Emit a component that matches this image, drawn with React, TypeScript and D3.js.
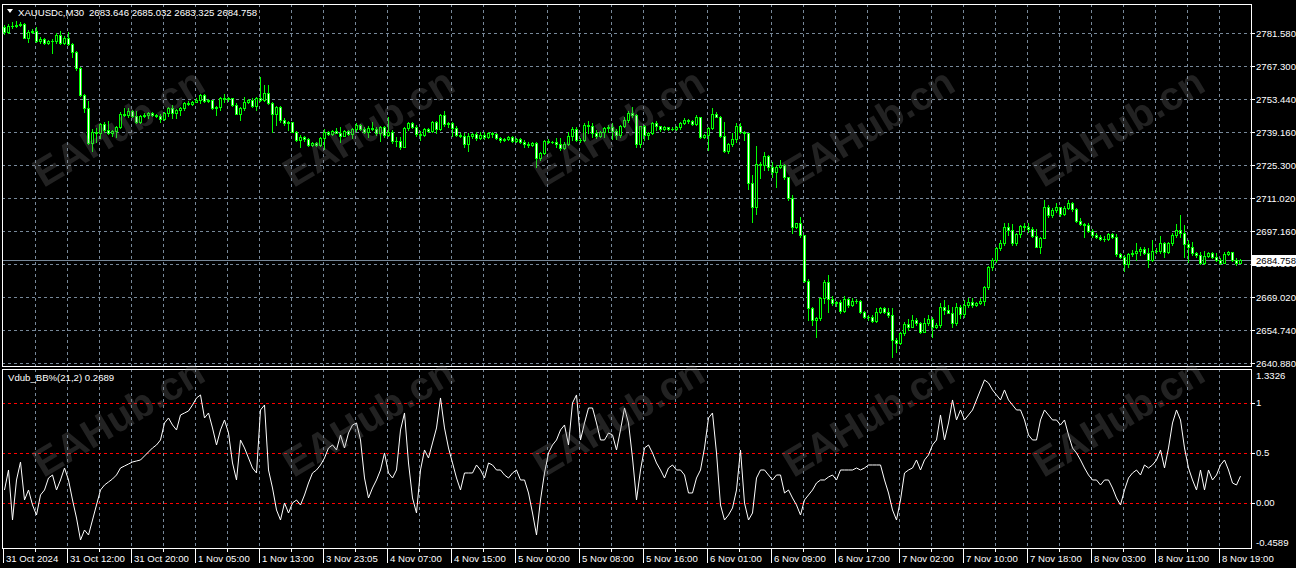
import React from "react";
import * as d3 from "d3";

const symbolLabel = "XAUUSDc,M30";
const headerValues = ["2683.646", "2685.032", "2683.325", "2684.758"];
const indicatorLabel = "Vdub_BB%(21,2) 0.2689";
const lastPrice = 2684.758;
const firstOpen = 2784.1;

const closes = [
  2782.0, 2784.6, 2784.7, 2785.0, 2785.3, 2779.6, 2782.1, 2782.4, 2778.3, 2779.0,
  2777.4, 2778.2, 2778.0, 2780.7, 2777.3, 2779.6, 2776.9, 2773.6, 2766.5, 2755.1,
  2749.7, 2734.6, 2739.5, 2738.9, 2742.8, 2740.2, 2738.9, 2739.8, 2741.6, 2747.0,
  2746.6, 2748.3, 2746.2, 2743.8, 2746.2, 2746.6, 2747.6, 2746.6, 2746.2, 2744.8,
  2747.3, 2749.6, 2747.3, 2748.8, 2749.7, 2751.7, 2751.3, 2752.3, 2753.0, 2755.1,
  2752.6, 2753.0, 2749.7, 2750.2, 2754.0, 2753.4, 2753.9, 2750.9, 2747.0, 2749.7,
  2752.2, 2753.0, 2750.6, 2753.7, 2753.0, 2756.0, 2751.7, 2747.0, 2750.2, 2744.5,
  2743.1, 2743.6, 2739.5, 2736.0, 2737.2, 2736.3, 2733.8, 2734.7, 2733.8, 2736.8,
  2739.5, 2738.5, 2739.8, 2739.1, 2737.8, 2739.8, 2738.4, 2740.5, 2742.4, 2740.5,
  2739.5, 2741.2, 2740.5, 2738.8, 2741.4, 2738.1, 2739.5, 2735.5, 2735.7, 2733.1,
  2741.0, 2743.1, 2741.6, 2738.4, 2738.1, 2740.5, 2739.8, 2743.6, 2740.5, 2746.6,
  2742.7, 2743.1, 2741.2, 2738.1, 2737.7, 2734.1, 2737.7, 2738.4, 2736.7, 2738.1,
  2737.4, 2738.8, 2738.4, 2736.9, 2736.0, 2736.4, 2737.4, 2735.7, 2736.3, 2735.0,
  2734.1, 2733.8, 2734.6, 2728.2, 2730.5, 2735.7, 2735.0, 2735.2, 2734.3, 2732.4,
  2734.3, 2737.7, 2740.5, 2736.0, 2736.1, 2742.4, 2741.9, 2739.1, 2737.7, 2739.5,
  2741.0, 2741.6, 2739.9, 2738.1, 2741.9, 2744.5, 2747.6, 2746.6, 2734.1, 2741.9,
  2738.1, 2739.1, 2743.3, 2741.9, 2740.5, 2741.4, 2740.5, 2740.8, 2741.4, 2743.3,
  2744.5, 2744.1, 2742.7, 2745.6, 2737.1, 2738.1, 2741.0, 2747.0, 2745.9, 2737.7,
  2731.3, 2734.3, 2736.3, 2741.9, 2739.5, 2738.8, 2717.5, 2707.3, 2725.7, 2725.3,
  2729.1, 2724.3, 2722.2, 2724.3, 2725.3, 2720.1, 2711.1, 2699.0, 2700.4, 2695.5,
  2676.0, 2664.2, 2659.2, 2660.1, 2668.5, 2675.5, 2668.0, 2666.3, 2666.8, 2663.2,
  2668.0, 2665.6, 2667.3, 2667.4, 2662.5, 2660.6, 2660.4, 2658.9, 2662.5, 2664.2,
  2662.8, 2661.4, 2650.7, 2649.5, 2653.5, 2657.5, 2656.1, 2659.2, 2657.8, 2654.2,
  2657.8, 2659.5, 2656.1, 2657.1, 2664.6, 2663.5, 2662.3, 2657.8, 2664.6, 2661.8,
  2665.6, 2667.0, 2665.6, 2666.6, 2667.2, 2673.4, 2681.7, 2684.8, 2689.8, 2691.9,
  2698.7, 2697.6, 2691.9, 2695.9, 2699.3, 2698.7, 2697.9, 2695.2, 2690.5, 2694.1,
  2707.3, 2704.0, 2706.1, 2707.3, 2704.4, 2706.8, 2709.0, 2706.4, 2701.6, 2700.0,
  2699.6, 2697.3, 2695.5, 2694.7, 2693.9, 2693.6, 2695.8, 2694.7, 2687.2, 2686.2,
  2683.1, 2687.4, 2687.9, 2688.6, 2689.4, 2687.7, 2684.8, 2688.8, 2688.6, 2691.9,
  2688.3, 2691.9, 2695.5, 2697.6, 2696.4, 2691.5, 2690.2, 2687.7, 2686.9, 2683.4,
  2686.5, 2687.7, 2686.2, 2684.8, 2683.6, 2687.4, 2688.2, 2684.8, 2683.646, 2684.758,
];

const highs = [
  2785.0, 2785.4, 2786.3, 2786.7, 2786.3, 2785.8, 2782.9, 2783.3, 2784.1, 2779.9,
  2779.4, 2778.6, 2779.0, 2781.6, 2782.4, 2780.3, 2782.0, 2777.3, 2773.9, 2767.1,
  2755.6, 2752.6, 2740.7, 2741.1, 2743.1, 2743.8, 2744.1, 2740.2, 2741.9, 2747.8,
  2749.5, 2749.5, 2748.8, 2748.3, 2746.6, 2747.3, 2748.0, 2748.1, 2747.0, 2747.0,
  2747.9, 2750.2, 2750.9, 2749.2, 2750.2, 2752.0, 2752.6, 2752.8, 2753.7, 2755.4,
  2755.4, 2753.4, 2753.2, 2750.6, 2754.4, 2755.4, 2754.3, 2754.0, 2751.6, 2750.2,
  2754.4, 2753.4, 2753.7, 2754.4, 2763.0, 2759.4, 2759.4, 2752.0, 2750.6, 2750.6,
  2745.2, 2744.1, 2743.6, 2739.8, 2738.1, 2737.7, 2736.7, 2735.3, 2735.3, 2737.4,
  2740.5, 2740.0, 2740.2, 2741.2, 2741.4, 2740.2, 2740.2, 2741.2, 2743.1, 2742.8,
  2741.6, 2741.9, 2743.5, 2741.5, 2741.9, 2741.9, 2745.6, 2740.2, 2737.4, 2737.4,
  2741.6, 2743.8, 2743.6, 2742.4, 2739.8, 2740.9, 2740.9, 2744.2, 2744.2, 2747.0,
  2748.5, 2743.8, 2743.5, 2741.9, 2739.1, 2738.8, 2738.8, 2739.1, 2739.5, 2739.2,
  2739.2, 2739.4, 2739.4, 2738.9, 2737.4, 2736.8, 2737.8, 2737.7, 2736.6, 2736.9,
  2736.0, 2735.2, 2734.9, 2735.2, 2731.0, 2736.0, 2736.2, 2735.7, 2736.7, 2736.7,
  2735.2, 2739.5, 2741.4, 2741.6, 2736.6, 2743.1, 2744.2, 2743.1, 2740.2, 2740.0,
  2741.6, 2742.4, 2743.1, 2740.5, 2742.4, 2745.9, 2748.5, 2749.9, 2747.0, 2741.9,
  2742.4, 2739.5, 2743.8, 2744.1, 2741.9, 2741.9, 2741.7, 2741.4, 2741.9, 2743.8,
  2745.2, 2744.8, 2744.4, 2746.6, 2745.9, 2738.5, 2741.4, 2749.5, 2748.0, 2746.2,
  2743.5, 2734.6, 2738.8, 2743.3, 2743.3, 2739.9, 2739.1, 2721.0, 2733.4, 2726.7,
  2731.0, 2729.6, 2726.7, 2725.3, 2727.4, 2725.7, 2720.1, 2712.5, 2700.7, 2703.3,
  2695.5, 2676.6, 2664.9, 2660.6, 2669.1, 2676.3, 2678.4, 2669.5, 2667.3, 2667.7,
  2669.5, 2668.7, 2668.5, 2668.0, 2667.7, 2663.2, 2661.4, 2661.4, 2664.2, 2664.9,
  2664.9, 2664.2, 2664.2, 2651.4, 2654.2, 2658.5, 2659.5, 2661.4, 2659.9, 2658.5,
  2659.9, 2661.4, 2660.6, 2658.1, 2666.3, 2667.7, 2665.6, 2664.9, 2666.3, 2665.6,
  2667.7, 2668.5, 2668.5, 2667.0, 2668.5, 2673.7, 2682.2, 2685.5, 2690.5, 2693.3,
  2700.4, 2700.4, 2700.2, 2696.4, 2699.7, 2700.4, 2700.4, 2699.0, 2697.9, 2694.7,
  2710.4, 2708.2, 2706.8, 2709.0, 2706.8, 2707.8, 2710.4, 2709.7, 2706.8, 2702.6,
  2700.4, 2700.7, 2697.9, 2696.4, 2695.5, 2695.0, 2696.4, 2696.4, 2695.9, 2687.9,
  2686.9, 2687.9, 2689.1, 2692.2, 2690.5, 2690.5, 2689.8, 2693.3, 2689.8, 2695.0,
  2692.6, 2692.6, 2696.4, 2700.2, 2704.0, 2699.7, 2693.3, 2692.6, 2688.3, 2688.3,
  2688.8, 2688.3, 2688.3, 2687.9, 2685.5, 2688.3, 2688.8, 2688.3, 2685.5, 2685.032,
];

const lows = [
  2781.2, 2781.6, 2783.7, 2784.1, 2784.6, 2779.4, 2777.9, 2781.6, 2777.7, 2777.3,
  2776.9, 2776.9, 2772.9, 2777.3, 2776.9, 2776.9, 2776.5, 2771.5, 2765.8, 2754.7,
  2748.0, 2734.3, 2731.3, 2735.2, 2736.9, 2739.5, 2738.5, 2737.8, 2737.4, 2741.0,
  2746.2, 2745.9, 2745.8, 2743.1, 2743.4, 2745.8, 2745.5, 2746.2, 2745.8, 2743.8,
  2744.5, 2746.2, 2745.5, 2745.2, 2746.6, 2748.8, 2750.9, 2750.9, 2752.0, 2751.6,
  2752.3, 2752.0, 2749.1, 2746.6, 2748.8, 2752.3, 2752.8, 2750.6, 2746.9, 2744.5,
  2748.8, 2751.7, 2750.0, 2748.8, 2752.6, 2752.6, 2751.2, 2739.5, 2742.4, 2743.8,
  2742.4, 2740.2, 2739.2, 2735.5, 2733.1, 2735.7, 2733.5, 2733.4, 2733.4, 2733.4,
  2732.0, 2738.1, 2738.1, 2738.8, 2735.2, 2737.5, 2738.1, 2736.9, 2739.9, 2740.2,
  2739.1, 2737.4, 2740.2, 2738.3, 2735.7, 2737.4, 2737.8, 2734.8, 2733.4, 2732.0,
  2732.9, 2740.2, 2741.0, 2737.8, 2736.0, 2737.7, 2739.4, 2739.5, 2739.1, 2740.2,
  2742.1, 2741.6, 2737.8, 2737.8, 2737.4, 2733.1, 2731.4, 2736.7, 2736.0, 2736.3,
  2736.4, 2736.9, 2737.2, 2736.4, 2735.2, 2735.7, 2736.1, 2735.3, 2735.3, 2734.6,
  2733.1, 2732.9, 2733.4, 2724.6, 2727.4, 2729.9, 2734.7, 2734.5, 2733.1, 2731.7,
  2732.0, 2733.8, 2736.0, 2735.7, 2734.9, 2735.7, 2739.1, 2737.4, 2736.9, 2737.2,
  2737.4, 2739.5, 2736.3, 2736.3, 2737.4, 2741.4, 2743.8, 2745.9, 2733.1, 2732.9,
  2736.0, 2736.3, 2738.4, 2740.2, 2739.7, 2740.1, 2740.1, 2740.1, 2740.2, 2740.5,
  2742.7, 2743.3, 2742.4, 2742.4, 2736.7, 2736.7, 2731.7, 2740.5, 2745.6, 2737.4,
  2731.0, 2730.5, 2733.4, 2735.2, 2738.8, 2736.0, 2714.9, 2701.1, 2704.4, 2719.6,
  2723.2, 2723.2, 2720.1, 2716.0, 2723.9, 2719.5, 2710.4, 2696.2, 2698.3, 2694.7,
  2675.5, 2659.2, 2657.1, 2652.1, 2659.2, 2666.3, 2662.8, 2665.6, 2665.2, 2662.1,
  2662.8, 2664.9, 2665.2, 2666.6, 2662.3, 2659.9, 2659.2, 2658.5, 2658.5, 2662.3,
  2662.3, 2660.6, 2643.6, 2645.7, 2649.0, 2652.8, 2655.0, 2656.1, 2657.1, 2653.8,
  2654.2, 2657.1, 2652.1, 2655.7, 2656.4, 2661.8, 2662.1, 2656.4, 2657.1, 2659.9,
  2660.6, 2664.6, 2664.9, 2665.2, 2666.0, 2665.6, 2672.6, 2680.5, 2684.1, 2689.1,
  2691.2, 2695.5, 2691.2, 2691.2, 2694.7, 2697.6, 2696.9, 2694.7, 2690.2, 2687.7,
  2694.1, 2703.3, 2703.3, 2705.4, 2703.6, 2704.1, 2706.4, 2705.8, 2701.1, 2699.7,
  2694.7, 2696.9, 2694.7, 2694.1, 2693.3, 2693.0, 2693.3, 2694.1, 2686.5, 2685.5,
  2680.2, 2681.7, 2686.5, 2684.8, 2686.9, 2687.4, 2681.9, 2684.5, 2687.7, 2687.7,
  2686.2, 2687.9, 2691.2, 2694.7, 2694.7, 2686.2, 2684.1, 2686.9, 2686.2, 2683.1,
  2683.1, 2686.0, 2685.5, 2684.5, 2683.1, 2683.4, 2686.8, 2684.5, 2682.7, 2683.325,
];

const bbValues = [
  0.13, 0.33, -0.17, 0.23, 0.41, 0.03, 0.13, -0.02, -0.12, 0.08,
  0.13, 0.25, 0.28, 0.13, 0.23, 0.35, 0.23, 0.03, -0.15, -0.37,
  -0.27, -0.32, -0.17, -0.02, 0.13, 0.18, 0.21, 0.24, 0.28, 0.35,
  0.37, 0.39, 0.41, 0.42, 0.43, 0.47, 0.51, 0.55, 0.58, 0.63,
  0.8, 0.85, 0.78, 0.73, 0.88, 0.9, 0.92, 0.98, 1.05, 1.08,
  0.85, 0.9, 0.75, 0.58, 0.73, 0.83, 0.7, 0.4, 0.23, 0.63,
  0.55, 0.45, 0.35, 0.3, 0.93, 0.98, 0.33, 0.15, -0.07, -0.17,
  0.0, -0.1, 0.0, 0.03, -0.02, 0.08, 0.2, 0.3, 0.33, 0.38,
  0.45, 0.55, 0.58, 0.53, 0.68, 0.55, 0.7, 0.78, 0.8, 0.63,
  0.25, 0.05, 0.15, 0.23, 0.33, 0.5, 0.3, 0.25, 0.33, 0.73,
  0.9, 0.4, 0.05, -0.1, 0.33, 0.53, 0.45, 0.6, 0.75, 1.05,
  0.75, 0.55, 0.4, 0.25, 0.13, 0.3, 0.3, 0.3, 0.38, 0.33,
  0.25, 0.4, 0.38, 0.33, 0.33, 0.28, 0.25, 0.3, 0.33, 0.23,
  0.23, 0.1, -0.1, -0.32, 0.03, 0.3, 0.5, 0.58, 0.63, 0.73,
  0.78, 0.58, 1.0, 1.08, 0.63, 0.8, 0.95, 0.95, 0.8, 0.63,
  0.63, 0.7, 0.68, 0.53, 0.73, 0.95, 0.8, 0.45, 0.03, 0.33,
  0.55, 0.58, 0.5, 0.4, 0.33, 0.25, 0.35, 0.38, 0.33, 0.33,
  0.28, 0.1, 0.1, 0.25, 0.33, 0.55, 0.85, 0.9, 0.5, -0.02,
  -0.17, -0.12, -0.05, 0.13, 0.53, 0.0, -0.17, -0.1, 0.25, 0.33,
  0.33, 0.28, 0.23, 0.28, 0.28, 0.1, 0.13, 0.05, -0.02, -0.12,
  0.03, 0.08, 0.13, 0.2, 0.23, 0.23, 0.26, 0.28, 0.23, 0.33,
  0.33, 0.33, 0.33, 0.35, 0.33, 0.35, 0.38, 0.38, 0.38, 0.38,
  0.23, 0.1, -0.07, -0.17, 0.03, 0.3, 0.33, 0.35, 0.43, 0.33,
  0.43, 0.48, 0.58, 0.63, 0.88, 0.63, 0.8, 1.03, 0.83, 0.93,
  0.83, 0.88, 0.93, 1.03, 1.13, 1.23, 1.2, 1.13, 1.08, 1.03,
  1.13, 1.03, 0.98, 0.93, 0.93, 0.83, 0.68, 0.63, 0.63, 0.83,
  0.93, 0.88, 0.83, 0.83, 0.78, 0.83, 0.68, 0.55, 0.5, 0.43,
  0.35, 0.28, 0.23, 0.23, 0.18, 0.23, 0.23, 0.15, 0.05, -0.02,
  0.13, 0.25, 0.3, 0.33, 0.28, 0.38, 0.35, 0.38, 0.43, 0.53,
  0.35, 0.55, 0.8, 0.93, 0.83, 0.55, 0.35, 0.23, 0.13, 0.33,
  0.13, 0.33, 0.23, 0.28, 0.38, 0.43, 0.33, 0.2, 0.18, 0.2689,
];

const priceTicks = [2781.58, 2767.3, 2753.44, 2739.16, 2725.3, 2711.02, 2697.16, 2683.3, 2669.02, 2654.74, 2640.88];
const bbTicks = [1.3326, 1, 0.5, 0, -0.4589];
const bbTickLabels = ["1.3326", "1", "0.5", "0.00", "-0.4589"];
const bbLevels = [1, 0.5, 0];
const timeLabels = [
  "31 Oct 2024", "31 Oct 12:00", "31 Oct 20:00", "1 Nov 05:00", "1 Nov 13:00",
  "3 Nov 23:05", "4 Nov 07:00", "4 Nov 15:00", "5 Nov 00:00", "5 Nov 08:00",
  "5 Nov 16:00", "6 Nov 01:00", "6 Nov 09:00", "6 Nov 17:00", "7 Nov 02:00",
  "7 Nov 10:00", "7 Nov 18:00", "8 Nov 03:00", "8 Nov 11:00", "8 Nov 19:00",
];
const timeLabelBars = [0, 16, 32, 48, 64, 80, 96, 112, 128, 144, 160, 176, 192, 208, 224, 240, 256, 272, 288, 304];
const watermarkText = "EAHub.cn";

const W = 1296;
const H = 573;
const FONT = "'Liberation Sans', Arial, sans-serif";
const GREEN = "#00ff00";
const GRID = "#778899";
const FS = 9.6;

export default function App() {
  const N = closes.length;
  const opens = closes.map((c, i) => (i === 0 ? firstOpen : closes[i - 1]));

  const plotL = 2, plotR = 1251;
  const mainT = 4, mainB = 366;
  const indT = 369, indB = 548;

  const x = d3.scaleLinear().domain([0, N - 1]).range([4, 4 + 4 * (N - 1)]);
  const yP = d3.scaleLinear().domain([2640.88, 2781.58]).range([363, 33]);
  const yB = d3.scaleLinear().domain([-0.4589, 1.3326]).range([548.9, 369.7]);

  const gridBars = d3.range(8, N, 8);
  const minorTickBars = d3.range(0, N, 8);

  const line = d3
    .line<number>()
    .x((_, i) => Math.round(x(i)) + 0.5)
    .y((d) => yB(d));

  const candles = closes.map((c, i) => {
    const o = opens[i];
    const h = Math.max(highs[i], o, c);
    const l = Math.min(lows[i], o, c);
    const cx = Math.round(x(i));
    const top = Math.round(yP(Math.max(o, c)));
    const bot = Math.round(yP(Math.min(o, c)));
    const hy = Math.round(yP(h));
    const ly = Math.round(yP(l));
    const bull = c >= o;
    return (
      <g key={i}>
        <rect x={cx} y={hy} width={1} height={ly - hy + 1} fill={GREEN} />
        <rect x={cx - 1} y={top} width={3} height={Math.max(1, bot - top + 1)} fill={GREEN} />
        {bot - top >= 2 && (
          <rect x={cx} y={top + 1} width={1} height={bot - top - 1} fill={bull ? "#000" : "#fff"} />
        )}
      </g>
    );
  });

  const lastY = yP(lastPrice);
  const boxTop = Math.round(lastY) - 5;

  const wmRows = [130, 420];
  const wmCols = [120, 370, 620, 870, 1120];

  return (
    <div>
      <style>{"body{margin:0;background:#fff}"}</style>
      <svg width={W} height={H} style={{ display: "block", fontFamily: FONT }}>
        <rect x={0} y={0} width={W} height={568} fill="#000" />
        <defs>
          <clipPath id="mainClip">
            <rect x={plotL + 1} y={mainT + 1} width={plotR - plotL - 1} height={mainB - mainT - 1} />
          </clipPath>
          <clipPath id="indClip">
            <rect x={plotL + 1} y={indT + 1} width={plotR - plotL - 1} height={indB - indT - 1} />
          </clipPath>
          <clipPath id="hiddenTickClip">
            <rect x={1252} y={boxTop + 11} width={44} height={10} />
          </clipPath>
        </defs>

        {/* main grid */}
        <g shapeRendering="crispEdges">
          {priceTicks.map((p, k) => (
            <line key={"hg" + k} x1={plotL} x2={plotR} y1={Math.round(yP(p)) + 0.5} y2={Math.round(yP(p)) + 0.5}
              stroke={GRID} strokeDasharray="3,3" />
          ))}
          {gridBars.map((b) => (
            <line key={"vg" + b} x1={Math.round(x(b)) - 0.5} x2={Math.round(x(b)) - 0.5} y1={mainT} y2={mainB}
              stroke={GRID} strokeDasharray="3,3" />
          ))}
          {gridBars.map((b) => (
            <line key={"vgi" + b} x1={Math.round(x(b)) - 0.5} x2={Math.round(x(b)) - 0.5} y1={indT} y2={indB}
              stroke={GRID} strokeDasharray="3,3" />
          ))}
          {bbLevels.map((v) => (
            <line key={"lv" + v} x1={plotL} x2={plotR} y1={Math.round(yB(v)) + 0.5} y2={Math.round(yB(v)) + 0.5}
              stroke="#ff0000" strokeDasharray="3,3" />
          ))}
        </g>

        {/* price line */}
        <line x1={plotL} x2={plotR} y1={Math.round(lastY) + 0.5} y2={Math.round(lastY) + 0.5} stroke={GRID}
          shapeRendering="crispEdges" />

        {/* candles */}
        <g clipPath="url(#mainClip)" shapeRendering="crispEdges">{candles}</g>

        {/* indicator line */}
        <g clipPath="url(#indClip)">
          <path d={line(bbValues) || ""} fill="none" stroke="#fff" strokeWidth={1} />
        </g>

        {/* frames */}
        <g fill="none" stroke="#fff" shapeRendering="crispEdges">
          <rect x={plotL + 0.5} y={mainT + 0.5} width={plotR - plotL} height={mainB - mainT} />
          <rect x={plotL + 0.5} y={indT + 0.5} width={plotR - plotL} height={indB - indT} />
        </g>

        {/* price axis */}
        <g fontSize={FS} fill="#fff">
          {priceTicks.map((p, k) => {
            const yy = yP(p);
            const hidden = Math.abs(yy - lastY) < 8;
            return (
              <g key={"pt" + k}>
                <line x1={plotR + 1} x2={plotR + 4} y1={Math.round(yy) + 0.5} y2={Math.round(yy) + 0.5}
                  stroke="#fff" shapeRendering="crispEdges" />
                <text x={1256} y={yy + 3.5} clipPath={hidden ? "url(#hiddenTickClip)" : undefined}>{p.toFixed(3)}</text>
              </g>
            );
          })}
        </g>
        <rect x={1252} y={boxTop} width={44} height={11} fill="#fff" />
        <text x={1256} y={lastY + 3.5} fontSize={FS} fill="#000">{lastPrice.toFixed(3)}</text>

        {/* indicator axis */}
        <g fontSize={FS} fill="#fff">
          {bbTicks.map((v, k) => {
            const yy = k === 0 ? yB(v) + 6 : k === bbTicks.length - 1 ? yB(v) - 6 : yB(v);
            return (
              <g key={"bt" + k}>
                {k > 0 && k < bbTicks.length - 1 && (
                  <line x1={plotR + 1} x2={plotR + 4} y1={Math.round(yB(v)) + 0.5} y2={Math.round(yB(v)) + 0.5}
                    stroke="#fff" shapeRendering="crispEdges" />
                )}
                <text x={1256} y={yy + 3.5}>{bbTickLabels[k]}</text>
              </g>
            );
          })}
        </g>

        {/* time axis */}
        <g shapeRendering="crispEdges" stroke="#fff">
          {minorTickBars.map((b) => (
            <line key={"mt" + b} x1={Math.round(x(b)) - 0.5} x2={Math.round(x(b)) - 0.5} y1={indB + 1} y2={indB + 4} />
          ))}
          {timeLabelBars.map((b) => (
            <line key={"Mt" + b} x1={Math.round(x(b)) - 0.5} x2={Math.round(x(b)) - 0.5} y1={indB + 1} y2={indB + 15} />
          ))}
        </g>
        <g fontSize={FS} fill="#fff">
          {timeLabels.map((t, k) => (
            <text key={"tl" + k} x={Math.round(x(timeLabelBars[k])) + 2} y={562}>{t}</text>
          ))}
        </g>

        {/* header */}
        <polygon points="7,9 13,9 10,13" fill="#fff" />
        <text x={18} y={16} fontSize={FS} fill="#fff">{symbolLabel}</text>
        <text x={89} y={16} fontSize={FS} fill="#fff">{headerValues.join(" ")}</text>
        <text x={8} y={381} fontSize={FS} fill="#fff">{indicatorLabel}</text>

        {/* watermark */}
        <g pointerEvents="none" fontFamily={FONT} fontWeight={700} fontSize={40} fill="#808080" opacity={0.27}>
          {wmRows.map((ry) =>
            wmCols.map((cx) => (
              <text key={ry + "-" + cx} x={cx} y={ry} textAnchor="middle" dominantBaseline="middle"
                transform={`rotate(-31 ${cx} ${ry})`}>{watermarkText}</text>
            ))
          )}
        </g>
      </svg>
    </div>
  );
}
